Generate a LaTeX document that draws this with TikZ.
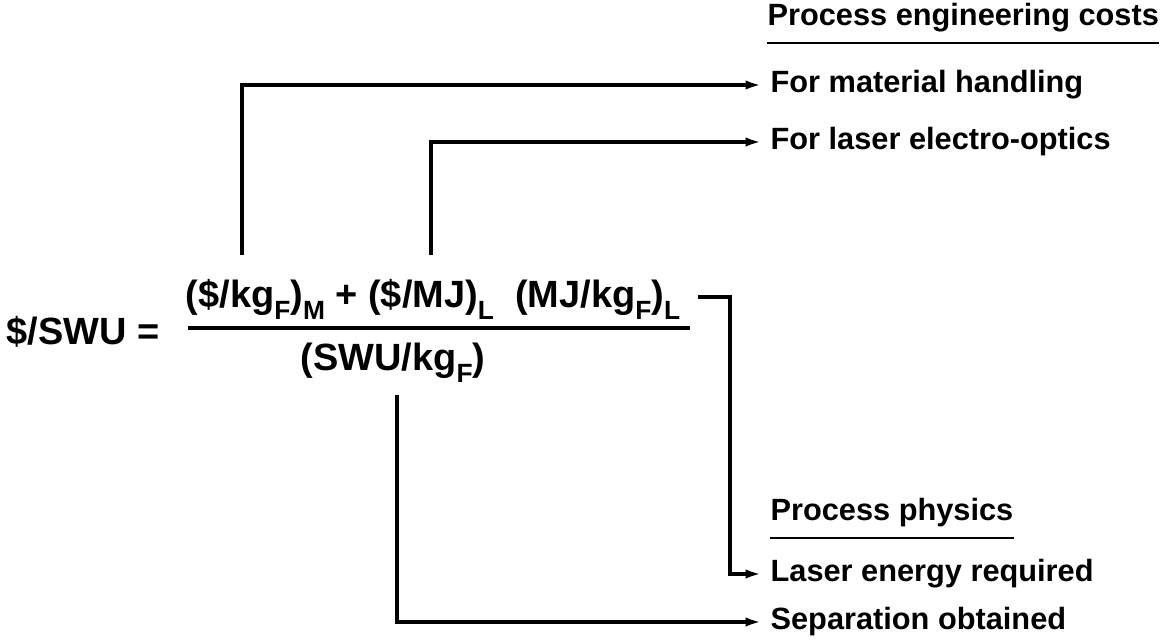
\documentclass[tikz,border=0pt]{standalone}
\usepackage{fontspec}
\setmainfont{Liberation Sans}
\usetikzlibrary{arrows.meta, positioning, calc}
\newcommand{\lowsub}[1]{\raisebox{-0.6ex}{\fontsize{15}{16}\selectfont #1}}
\tikzset{
  lbl/.style={anchor=west, font=\bfseries\fontsize{17.5}{19}\selectfont,
    inner xsep=3pt, inner ysep=0pt},
  hdr/.style={lbl, anchor=base west},
  eq/.style={font=\bfseries\fontsize{21.6}{24}\selectfont, inner sep=0pt},
  arrow/.style={-{Latex[length=11pt,width=5pt]}, line width=2.2pt, color=black},
  line/.style={line width=1.8pt, color=black},
  uline/.style={line width=1.1pt, color=black}
}

\begin{document}
\begin{tikzpicture}[x=0.02cm, y=-0.02cm]
  \useasboundingbox (0,0) rectangle (1167,643);

  % the formula
  \node[eq, anchor=base east] (lhs) at (160,344) {\$/SWU =};
  \node[eq, anchor=base] (num) at (433,307) {(\$/kg\lowsub{F})\lowsub{M} + (\$/MJ)\lowsub{L}\ \ (MJ/kg\lowsub{F})\lowsub{L}};
  \node[eq, anchor=base] (den) at (393,370) {(SWU/kg\lowsub{F})};
  \coordinate (barl) at (188,328);
  \coordinate (barr) at (690,328);
  \draw[line] (barl) -- (barr);

  % cost and physics labels
  \node[hdr] (pec) at (762,25) {Process engineering costs};
  \node[lbl] (mat) at (765,85) {For material handling};
  \node[lbl] (opt) at (765,142) {For laser electro-optics};
  \node[hdr] (pp) at (765,520) {Process physics};
  \node[lbl] (lae) at (765,574) {Laser energy required};
  \node[lbl] (sep) at (765,622) {Separation obtained};
  \draw[uline] ([xshift=3pt,yshift=-10pt]pec.base west) -- ([xshift=-3pt,yshift=-10pt]pec.base east);
  \draw[uline] ([xshift=3pt,yshift=-10pt]pp.base west) -- ([xshift=-3pt,yshift=-10pt]pp.base east);

  % connectors
  \coordinate (m0) at (242,255);
  \coordinate (o0) at (431,255);
  \coordinate (e0) at (698,297);
  \coordinate (s0) at (397,395);
  \draw[arrow] (m0) |- (mat.west);
  \draw[arrow] (o0) |- (opt.west);
  \draw[arrow] (e0) -- ++(32,0) |- (lae.west);
  \draw[arrow] (s0) |- (sep.west);
\end{tikzpicture}
\end{document}
